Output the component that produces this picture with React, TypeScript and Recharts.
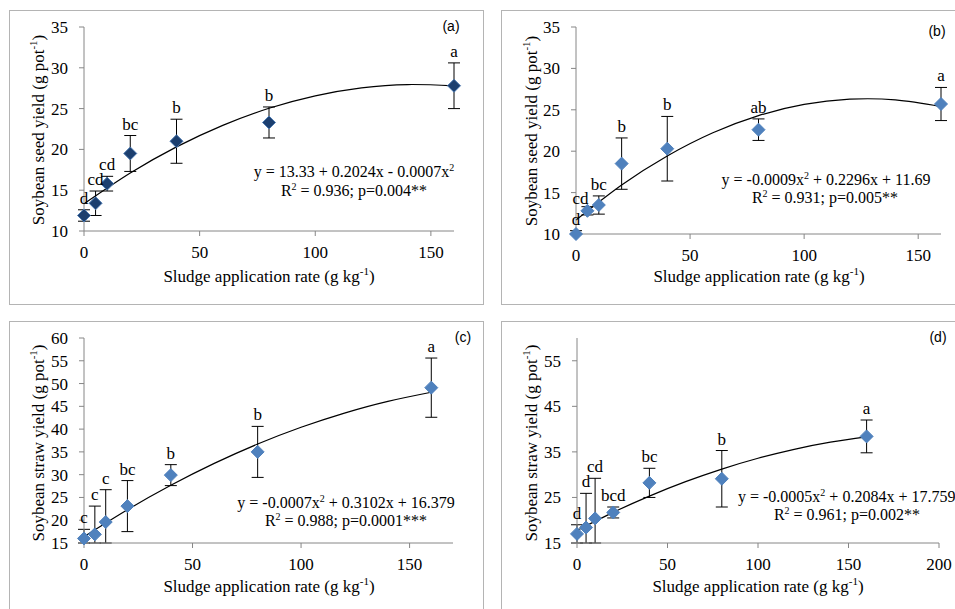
import React from 'react'
import { ComposedChart, Scatter, Line, XAxis, YAxis, ErrorBar } from 'recharts'

const SERIF = '"Liberation Serif", "Times New Roman", serif'
const SANS = '"Liberation Sans", Arial, sans-serif'

// sludge rates (g kg-1)
const rates = [0, 5, 10, 20, 40, 80, 160]

// (a) seed yield
const seedA = [11.9, 13.4, 15.8, 19.5, 21.0, 23.3, 27.8]
const seedAErr = [0.7, 1.5, 0.9, 2.2, 2.7, 1.9, 2.8]
const seedALetters = ['d', 'cd', 'cd', 'bc', 'b', 'b', 'a']

// (b) seed yield
const seedB = [10.0, 12.8, 13.5, 18.5, 20.3, 22.6, 25.7]
const seedBErr = [0.4, 0.5, 1.1, 3.1, 3.9, 1.3, 2.0]
const seedBLetters = ['d', 'cd', 'bc', 'b', 'b', 'ab', 'a']

// (c) straw yield
const strawC = [16.0, 16.9, 19.6, 23.1, 29.9, 35.0, 49.1]
const strawCErr = [2.0, 6.2, 7.1, 5.6, 2.3, 5.6, 6.5]
const strawCLetters = ['c', 'c', 'c', 'bc', 'b', 'b', 'a']

// (d) straw yield
const strawD = [17.0, 18.4, 20.4, 21.7, 28.2, 29.1, 38.4]
const strawDErr = [2.0, 7.5, 8.8, 1.2, 3.2, 6.2, 3.6]
const strawDLetters = ['d', 'd', 'cd', 'bcd', 'bc', 'b', 'a']

// fitted curves read along the plotted trendlines
const trendRates = [0, 20, 40, 60, 80, 100, 120, 140, 160]
const trendA = [13.33, 17.1, 20.31, 22.95, 25.04, 26.57, 27.54, 27.95, 27.79]
const trendB = [11.69, 15.92, 19.43, 22.23, 24.3, 25.65, 26.28, 26.19, 25.39]
const trendC = [16.38, 22.3, 27.67, 32.47, 36.72, 40.4, 43.52, 46.09, 48.09]
const trendD = [17.76, 21.73, 25.3, 28.46, 31.23, 33.6, 35.57, 37.14, 38.3]

const seedTicks = [10, 15, 20, 25, 30, 35]
const strawTicksC = [15, 20, 25, 30, 35, 40, 45, 50, 55, 60]
const strawTicksD = [15, 25, 35, 45, 55]
const rateTicks = [0, 50, 100, 150]
const rateTicksD = [0, 50, 100, 150, 200]

const makeDiamond = (fill: string, stroke: string, r: number) => (props: any) => {
  const { cx, cy } = props
  return (
    <polygon
      points={`${cx},${cy - r} ${cx + r},${cy} ${cx},${cy + r} ${cx - r},${cy}`}
      fill={fill}
      stroke={stroke}
      strokeWidth={1}
    />
  )
}

// letter sits just above the top of the error bar; shift nudges crowded ones
const makeLetter = (shift: Record<number, [number, number]>) => (props: any) => {
  const [dx, dy] = shift[props.payload.x] ?? [0, 0]
  return (
    <text
      x={props.cx + dx}
      y={props.cy - 6 + dy}
      textAnchor="middle"
      fontFamily={SERIF}
      fontSize={17}
      fill="#000"
    >
      {props.payload.tag}
    </text>
  )
}

const tickStyle = { fill: '#000', fontSize: 17, fontFamily: SERIF }

interface PanelProps {
  box: [number, number, number, number]
  xDomain: [number, number]
  xTicks: number[]
  yDomain: [number, number]
  yTicks: number[]
  values: number[]
  errs: number[]
  letters: string[]
  trend: number[]
  fill: string
  stroke: string
  shift?: Record<number, [number, number]>
}

function Panel({ box, xDomain, xTicks, yDomain, yTicks, values, errs, letters, trend, fill, stroke, shift = {} }: PanelProps) {
  const [L, T, R, B] = box
  const points = rates.map((x, i) => ({
    x,
    y: values[i],
    err: [Math.min(errs[i], values[i] - yDomain[0]), errs[i]],
  }))
  const tags = rates.map((x, i) => ({ x, y: values[i] + errs[i], tag: letters[i] }))
  const curve = trendRates.map((x, i) => ({ x, y: trend[i] }))

  return (
    <div style={{ position: 'absolute', left: L - 70, top: T - 20 }}>
      <ComposedChart
        width={R - L + 90}
        height={B - T + 60}
        margin={{ top: 20, right: 20, bottom: 10, left: 10 }}
      >
        <XAxis
          type="number"
          dataKey="x"
          domain={xDomain}
          ticks={xTicks}
          interval={0}
          height={30}
          tickSize={5}
          tickMargin={10}
          stroke="#868686"
          tick={tickStyle}
        />
        <YAxis
          type="number"
          dataKey="y"
          domain={yDomain}
          ticks={yTicks}
          interval={0}
          width={60}
          tickSize={5}
          tickMargin={11}
          stroke="#868686"
          tick={tickStyle}
        />
        <Line
          data={curve}
          dataKey="y"
          type="natural"
          stroke="#000"
          strokeWidth={1.2}
          dot={false}
          activeDot={false}
          isAnimationActive={false}
        />
        <Scatter data={points} dataKey="y" shape={makeDiamond(fill, stroke, 6.5)} isAnimationActive={false}>
          <ErrorBar dataKey="err" direction="y" width={6} stroke="#000" strokeWidth={1} />
        </Scatter>
        <Scatter data={tags} dataKey="y" shape={makeLetter(shift)} isAnimationActive={false} />
      </ComposedChart>
    </div>
  )
}

const frame = (left: number, top: number, width: number, height: number) => (
  <div
    style={{
      position: 'absolute',
      left,
      top,
      width,
      height,
      border: '1px solid #b4b4b4',
    }}
  />
)

function YTitle({ x, y, text }: { x: number; y: number; text: string }) {
  return (
    <text
      transform={`translate(${x},${y}) rotate(-90)`}
      textAnchor="middle"
      fontFamily={SERIF}
      fontSize={17}
      fill="#000"
    >
      {text}
      <tspan fontSize={11} dy={-7}>-1</tspan>
      <tspan dy={7}>)</tspan>
    </text>
  )
}

function XTitle({ x, y }: { x: number; y: number }) {
  return (
    <text x={x} y={y} textAnchor="middle" fontFamily={SERIF} fontSize={17} fill="#000">
      Sludge application rate (g kg
      <tspan fontSize={11} dy={-7}>-1</tspan>
      <tspan dy={7}>)</tspan>
    </text>
  )
}

function Sup({ children }: { children: string }) {
  return (
    <tspan fontSize={10} dy={-6}>
      {children}
    </tspan>
  )
}

export default function App() {
  const eq = { fontFamily: SERIF, fontSize: 16, fill: '#000' }
  const tag = { fontFamily: SANS, fontSize: 14, fill: '#000', textAnchor: 'middle' as const }
  return (
    <div
      style={{
        position: 'absolute',
        left: 0,
        top: 0,
        width: 955,
        height: 609,
        overflow: 'hidden',
        background: '#fff',
      }}
    >
      {frame(9, 10, 473, 293)}
      {frame(501, 10, 470, 293)}
      {frame(9, 321, 473, 300)}
      {frame(501, 321, 470, 300)}

      <Panel
        box={[84, 27, 454, 231]}
        xDomain={[0, 160]}
        xTicks={rateTicks}
        yDomain={[10, 35]}
        yTicks={seedTicks}
        values={seedA}
        errs={seedAErr}
        letters={seedALetters}
        trend={trendA}
        fill="#1c3f6f"
        stroke="#4a78b0"
      />
      <Panel
        box={[576, 27, 941, 234]}
        xDomain={[0, 160]}
        xTicks={rateTicks}
        yDomain={[10, 35]}
        yTicks={seedTicks}
        values={seedB}
        errs={seedBErr}
        letters={seedBLetters}
        trend={trendB}
        fill="#4f81bd"
        stroke="#4f81bd"
        shift={{ 5: [-7, 3] }}
      />
      <Panel
        box={[84, 338, 453, 543]}
        xDomain={[0, 170]}
        xTicks={rateTicks}
        yDomain={[15, 60]}
        yTicks={strawTicksC}
        values={strawC}
        errs={strawCErr}
        letters={strawCLetters}
        trend={trendC}
        fill="#4f81bd"
        stroke="#4f81bd"
      />
      <Panel
        box={[577, 338, 939, 543]}
        xDomain={[0, 200]}
        xTicks={rateTicksD}
        yDomain={[15, 60]}
        yTicks={strawTicksD}
        values={strawD}
        errs={strawDErr}
        letters={strawDLetters}
        trend={trendD}
        fill="#4f81bd"
        stroke="#4f81bd"
      />

      <svg
        width={955}
        height={609}
        style={{ position: 'absolute', left: 0, top: 0, pointerEvents: 'none' }}
      >
        <YTitle x={44} y={130} text="Soybean seed yield (g pot" />
        <YTitle x={537} y={131} text="Soybean seed yield (g pot" />
        <YTitle x={44} y={443} text="Soybean straw yield (g pot" />
        <YTitle x={537} y={443} text="Soybean straw yield (g pot" />

        <XTitle x={269} y={282} />
        <XTitle x={759} y={282} />
        <XTitle x={269} y={592} />
        <XTitle x={758} y={592} />

        <text x={354} y={177} textAnchor="middle" {...eq}>
          y = 13.33 + 0.2024x - 0.0007x<Sup>2</Sup>
        </text>
        <text x={354} y={196} textAnchor="middle" {...eq}>
          R<Sup>2</Sup>
          <tspan dy={6}> = 0.936; p=0.004**</tspan>
        </text>

        <text x={826} y={185} textAnchor="middle" {...eq}>
          y = -0.0009x<Sup>2</Sup>
          <tspan dy={6}> + 0.2296x + 11.69</tspan>
        </text>
        <text x={825} y={203} textAnchor="middle" {...eq}>
          R<Sup>2</Sup>
          <tspan dy={6}> = 0.931; p=0.005**</tspan>
        </text>

        <text x={346} y={508} textAnchor="middle" {...eq}>
          y = -0.0007x<Sup>2</Sup>
          <tspan dy={6}> + 0.3102x + 16.379</tspan>
        </text>
        <text x={346} y={526} textAnchor="middle" {...eq}>
          R<Sup>2</Sup>
          <tspan dy={6}> = 0.988; p=0.0001***</tspan>
        </text>

        <text x={738} y={502} textAnchor="start" {...eq}>
          y = -0.0005x<Sup>2</Sup>
          <tspan dy={6}> + 0.2084x + 17.759</tspan>
        </text>
        <text x={847} y={520} textAnchor="middle" {...eq}>
          R<Sup>2</Sup>
          <tspan dy={6}> = 0.961; p=0.002**</tspan>
        </text>

        <text x={451} y={31} {...tag}>(a)</text>
        <text x={937} y={36} {...tag}>(b)</text>
        <text x={463} y={342} {...tag}>(c)</text>
        <text x={938} y={342} {...tag}>(d)</text>
      </svg>
    </div>
  )
}
